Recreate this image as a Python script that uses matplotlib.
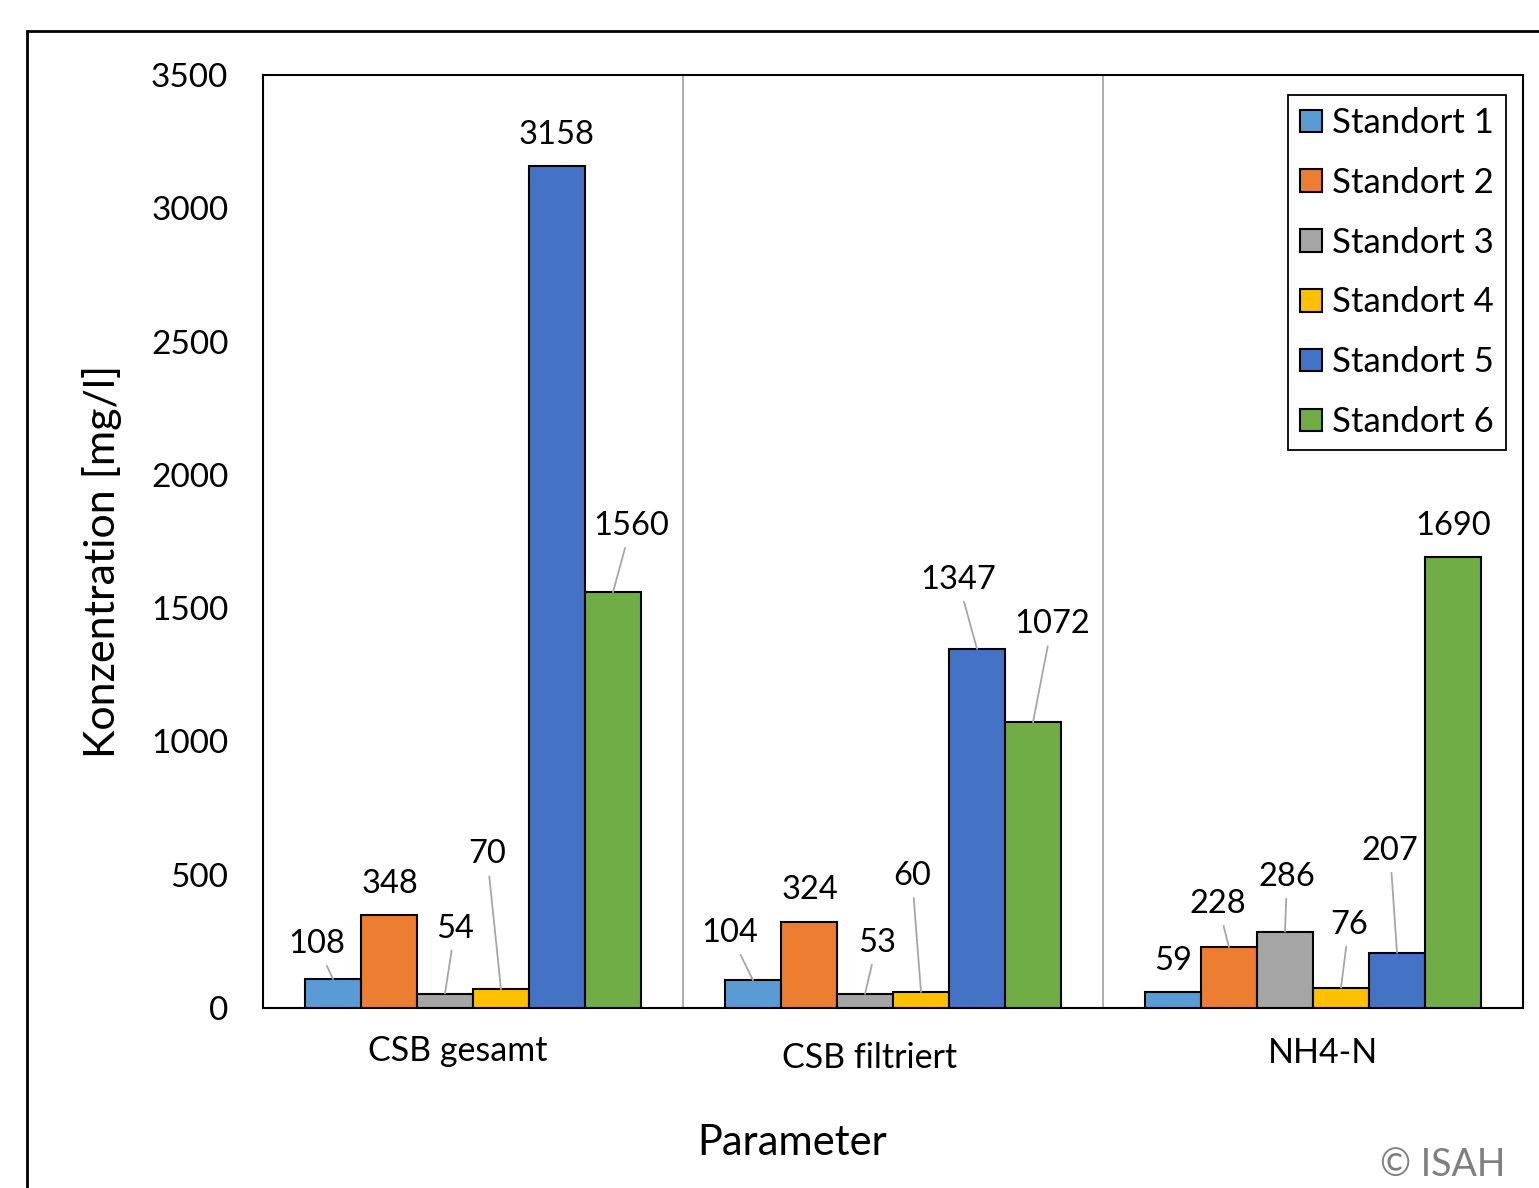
import numpy as np
import matplotlib
matplotlib.use("Agg")
from matplotlib import pyplot as plt
from matplotlib.patches import Rectangle

plt.rcParams['font.family'] = ['Lato', 'DejaVu Sans']

# Categories and measured values per site
parameters = ['CSB gesamt', 'CSB filtriert', 'NH4-N']
sites = ['Standort 1', 'Standort 2', 'Standort 3', 'Standort 4', 'Standort 5', 'Standort 6']
standort_1 = [108, 104, 59]
standort_2 = [348, 324, 228]
standort_3 = [54, 53, 286]
standort_4 = [70, 60, 76]
standort_5 = [3158, 1347, 207]
standort_6 = [1560, 1072, 1690]
y_ticks = [0, 500, 1000, 1500, 2000, 2500, 3000, 3500]

colors = ['#5B9BD5', '#ED7D31', '#A5A5A5', '#FFC000', '#4472C4', '#70AD47']

# Label placement (offset in pixels from bar top, leader line yes/no)
label_offsets = [
    [(-16, 35, True), (-23, 47, True), (0, 31, False)],
    [(1, 31, False), (1, 32, False), (-11, 43, True)],
    [(10, 65, True), (12, 51, True), (2, 55, True)],
    [(-14, 135, True), (-9, 116, True), (8, 63, True)],
    [(0, 31, False), (-19, 69, True), (-7, 102, True)],
    [(18, 66, True), (19, 98, True), (0, 31, False)],
]
cat_offsets = [(-15, -43), (-23, -50), (10, -45)]

W, H = 1539, 1188
fig = plt.figure(figsize=(W / 100, H / 100), dpi=100)
ax = fig.add_axes([263 / W, 1 - 1008 / H, (1523 - 263) / W, (1008 - 75) / H])

series = [standort_1, standort_2, standort_3, standort_4, standort_5, standort_6]
x = np.arange(len(parameters))
bar_w = 0.8 / len(series)

for j, (vals, name) in enumerate(zip(series, sites)):
    pos = x - 0.4 + bar_w * (j + 0.5)
    ax.bar(pos, vals, width=bar_w, color=colors[j], edgecolor='black',
           linewidth=1.5, label=name, zorder=3)
    for i, v in enumerate(vals):
        dx, dy, leader = label_offsets[j][i]
        arrow = dict(arrowstyle='-', color='#a6a6a6', lw=1.3, shrinkA=3, shrinkB=0) if leader else None
        ax.annotate(str(v), xy=(pos[i], v), xytext=(dx, dy), textcoords='offset pixels',
                    ha='center', va='center', fontsize=23.5, arrowprops=arrow, zorder=4)

# Separators between parameter groups
for b in [0.5, 1.5]:
    ax.axvline(b, color='#a0a0a0', lw=1.2, zorder=1)

ax.set_xlim(-0.5, 2.5)
ax.set_ylim(0, 3500)
ax.set_yticks(y_ticks)
ax.set_yticklabels([str(t) for t in y_ticks], fontsize=24)
ax.tick_params(axis='y', length=0, pad=25)
ax.set_xticks([])
for s in ax.spines.values():
    s.set_linewidth(1.5)

for i, name in enumerate(parameters):
    dx, dy = cat_offsets[i]
    ax.annotate(name, xy=(i, 0), xytext=(dx, dy), textcoords='offset pixels',
                ha='center', va='center', fontsize=24.5, annotation_clip=False)

leg = ax.legend(loc='upper right', bbox_to_anchor=((1506 - 263) / 1260, (1008 - 95) / 933),
                borderaxespad=0, fontsize=25, handlelength=0.62, handleheight=0.62,
                handletextpad=0.3, labelspacing=0.8, fancybox=False, edgecolor='black',
                framealpha=1, borderpad=0.35)
leg.get_frame().set_linewidth(1.3)

fig.text(102 / W, 1 - 561 / H, 'Konzentration [mg/l]', rotation=90,
         ha='center', va='center', fontsize=31)
fig.text(792 / W, 1 - 1143 / H, 'Parameter', ha='center', va='center', fontsize=30)
fig.text(1443 / W, 1 - 1165 / H, '\u00a9 ISAH', ha='center', va='center',
         fontsize=27, color='#7f7f7f')

# Outer frame
fig.patches.append(Rectangle((27 / W, -0.1), 2, 1 - 31 / H + 0.1, transform=fig.transFigure,
                             fill=False, edgecolor='black', lw=2))

fig.savefig('out.png', dpi=100)
